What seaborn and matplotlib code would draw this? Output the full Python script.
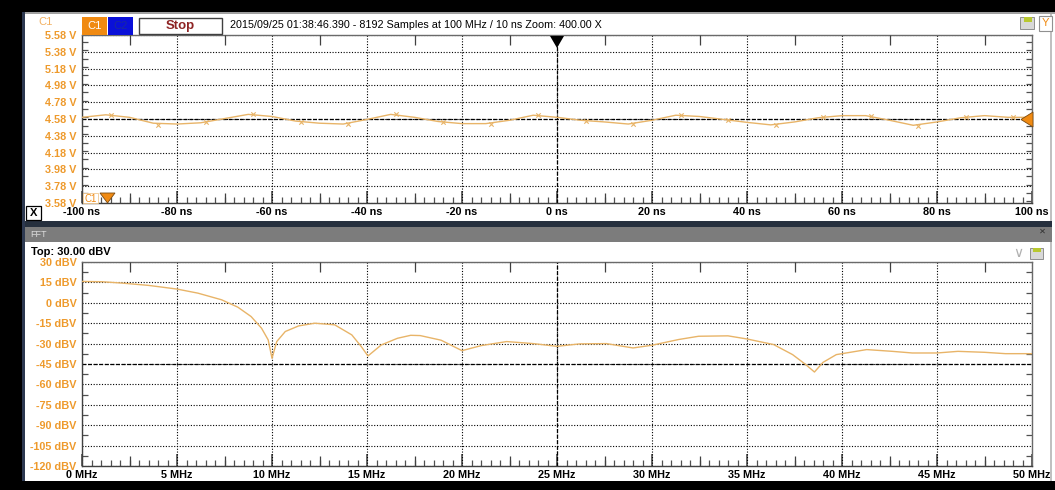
import matplotlib
matplotlib.use("Agg")
import matplotlib.pyplot as plt
from matplotlib.patches import Rectangle, Polygon
from matplotlib.ticker import FixedLocator, MultipleLocator
from matplotlib import font_manager
import seaborn as sns

# ---- channel C1 capture: 100 MHz samples (10 ns apart) ----
sample_t_ns = [-94, -84, -74, -64, -54, -44, -34, -24, -14, -4,
               6, 16, 26, 36, 46, 56, 66, 76, 86, 96]
sample_v = [4.63, 4.51, 4.54, 4.64, 4.54, 4.52, 4.64, 4.54, 4.525, 4.63,
            4.56, 4.52, 4.63, 4.57, 4.51, 4.60, 4.62, 4.50, 4.60, 4.60]

# displayed C1 trace
trace_t_ns = [-100, -95, -90, -85, -80, -75, -70, -65, -60, -55, -50, -45, -40,
              -35, -30, -25, -20, -15, -10, -5, 0, 5, 10, 15, 20, 25, 30, 35,
              40, 45, 50, 55, 60, 65, 70, 75, 80, 85, 90, 95, 100]
trace_v = [4.60, 4.63, 4.60, 4.53, 4.52, 4.535, 4.585, 4.635, 4.61, 4.555,
           4.53, 4.52, 4.575, 4.635, 4.60, 4.55, 4.525, 4.525, 4.565, 4.625,
           4.60, 4.565, 4.545, 4.52, 4.565, 4.625, 4.61, 4.575, 4.54, 4.51,
           4.545, 4.595, 4.62, 4.62, 4.565, 4.505, 4.545, 4.595, 4.62, 4.60, 4.60]

# ---- FFT magnitude of C1 ----
fft_mhz = [0, 1.05, 2.1, 3.5, 5.0, 6.1, 7.35, 8.2, 8.9, 9.45, 9.8, 10.0, 10.25,
           10.7, 11.4, 12.25, 13.3, 14.2, 14.7, 15.05, 15.75, 16.6, 17.3, 17.8,
           18.9, 20.0, 21.0, 22.35, 23.75, 25.0, 26.2, 27.6, 29.0, 30.0, 31.4,
           32.45, 34.0, 35.0, 36.4, 37.4, 38.1, 38.55, 39.0, 39.7, 41.3, 42.65,
           43.7, 45.0, 46.1, 47.5, 48.6, 50.0]
fft_dbv = [15.7, 15.5, 14.5, 12.8, 10.1, 7.1, 2.2, -3.2, -10.1, -18.7, -27.3,
           -40.8, -28.5, -21.1, -17.0, -15.0, -16.2, -23.6, -32.2, -39.1, -31.0,
           -26.1, -23.9, -24.1, -27.5, -35.2, -31.5, -28.5, -30.0, -32.0, -30.2,
           -30.0, -33.2, -31.2, -27.0, -24.6, -24.3, -26.6, -30.7, -38.1, -45.5,
           -50.9, -43.8, -38.1, -34.4, -35.7, -36.9, -36.9, -35.7, -36.4, -37.4,
           -37.4]

# ---- axis ticks and labels ----
time_ticks = [-100, -80, -60, -40, -20, 0, 20, 40, 60, 80, 100]
time_labels = ["-100 ns", "-80 ns", "-60 ns", "-40 ns", "-20 ns", "0 ns",
               "20 ns", "40 ns", "60 ns", "80 ns", "100 ns"]
volt_ticks = [5.58, 5.38, 5.18, 4.98, 4.78, 4.58, 4.38, 4.18, 3.98, 3.78, 3.58]
volt_labels = ["5.58 V", "5.38 V", "5.18 V", "4.98 V", "4.78 V", "4.58 V",
               "4.38 V", "4.18 V", "3.98 V", "3.78 V", "3.58 V"]
freq_ticks = [0, 5, 10, 15, 20, 25, 30, 35, 40, 45, 50]
freq_labels = ["0 MHz", "5 MHz", "10 MHz", "15 MHz", "20 MHz", "25 MHz",
               "30 MHz", "35 MHz", "40 MHz", "45 MHz", "50 MHz"]
dbv_ticks = [30, 15, 0, -15, -30, -45, -60, -75, -90, -105, -120]
dbv_labels = ["30 dBV", "15 dBV", "0 dBV", "-15 dBV", "-30 dBV", "-45 dBV",
              "-60 dBV", "-75 dBV", "-90 dBV", "-105 dBV", "-120 dBV"]

header_text = "2015/09/25 01:38:46.390 - 8192 Samples at 100 MHz / 10 ns Zoom: 400.00 X"

sns.set_style("white")
installed = {f.name for f in font_manager.fontManager.ttflist}
base_font = "Liberation Sans" if "Liberation Sans" in installed else "DejaVu Sans"
narrow_font = "Liberation Sans Narrow" if "Liberation Sans Narrow" in installed else base_font
header_size = 8.3 if narrow_font != base_font else 7.75
plt.rcParams["font.family"] = [base_font, "DejaVu Sans"]

TRACE = "#E8B468"
LABEL = "#EE9A2C"
ORANGE = "#F08A12"

W, H = 1055, 490
fig = plt.figure(figsize=(W / 100, H / 100), dpi=100)
fig.patch.set_facecolor("white")


def fx(x):
    return x / W


def fy(y):
    return 1 - y / H


def box(x0, y0, x1, y1, face, edge="none", lw=0.0, z=0):
    fig.patches.append(Rectangle((fx(x0), fy(y1)), (x1 - x0) / W, (y1 - y0) / H,
                                 transform=fig.transFigure, facecolor=face,
                                 edgecolor=edge, linewidth=lw, zorder=z))


def tri(points, face, edge="none", z=5):
    fig.patches.append(Polygon([(fx(a), fy(b)) for a, b in points], closed=True,
                               transform=fig.transFigure, facecolor=face,
                               edgecolor=edge, linewidth=0.6, zorder=z))


def label(x, y, s, **kw):
    fig.text(fx(x), fy(y), s, **kw)


# window frame
box(0, 0, W, 12, "black")
box(0, 0, 22, H, "black")
box(0, 481, W, H, "black")
box(22, 12, 25, 481, "#2c3850")
box(25, 12, W, 14, "#a0a0a0")
box(1050, 14, 1052, 221, "#c0c0c0")
box(1050, 242, 1052, 481, "#c0c0c0")
box(25, 221, 1052, 227, "#26303e")
box(25, 227, 1052, 242, "#7c7c7c")

# channel header
label(38, 22, "C1", color="#F2B060", fontsize=8, va="center", ha="left")
box(82, 17, 107, 35, ORANGE)
label(94.5, 26, "C1", color="white", fontsize=8, va="center", ha="center")
box(108, 17, 133, 35, "#0a10d8")
label(120.5, 26, "C2", color="#1a2aa0", fontsize=8, va="center", ha="center")
box(139, 18, 222, 34, "white", edge="#404040", lw=1.0)
label(180, 26, "Stop", color="#8E2424", fontsize=9.5, fontweight="bold",
      va="center", ha="center")
label(230, 25, header_text, color="black", fontsize=header_size, va="center",
      ha="left", family=narrow_font)
box(1020, 17, 1034, 29, "#d8d8d8", edge="#808080", lw=0.6)
box(1024, 17, 1032, 22, "#b8c830")
box(1039, 16, 1052, 31, "white", edge="#909090", lw=0.8)
label(1045.5, 23.5, "Y", color=ORANGE, fontsize=8, va="center", ha="center")

# FFT header
label(30, 234.5, "FFT", color="#dcdcdc", fontsize=6.5, va="center", ha="left")
label(31, 252, "Top: 30.00 dBV", color="black", fontsize=8, fontweight="bold",
      va="center", ha="left")
label(1018, 253, "\u2228", color="#b0b0b0", fontsize=10, va="center", ha="center")
box(1030, 248, 1043, 259, "#d8d8d8", edge="#808080", lw=0.6)
box(1033, 248, 1041, 252, "#b8c830")
label(1042, 232, "\u2715", color="#303030", fontsize=6, va="center", ha="center")

# X close box
box(26, 206, 41, 220, "white", edge="black", lw=0.9)
label(33.5, 213, "X", color="black", fontsize=8, fontweight="bold",
      va="center", ha="center")

tick_font = dict(fontsize=7.8, fontweight="bold")


def scope_axes(ax, xlim, ylim, xt, xl, yt, yl, xmid, xminor, ymid, center_x, center_y):
    ax.set_xlim(*xlim)
    ax.set_ylim(*ylim)
    ax.set_facecolor("white")
    # graticule
    for v in xt:
        ax.axvline(v, color="black", lw=0.8, ls=(0, (1, 1.5)), zorder=1)
    for v in yt:
        ax.axhline(v, color="black", lw=0.8, ls=(0, (1, 1.5)), zorder=1)
    ax.axvline(center_x, color="black", lw=0.9, ls=(0, (3, 1.5)), zorder=1)
    ax.axhline(center_y, color="black", lw=0.9, ls=(0, (3, 1.5)), zorder=1)
    ax.xaxis.set_major_locator(FixedLocator(xt))
    ax.set_xticklabels(xl, color="black", **tick_font)
    ax.yaxis.set_major_locator(FixedLocator(yt))
    ax.set_yticklabels(yl, color=LABEL, **tick_font)
    ax.xaxis.set_minor_locator(MultipleLocator(xminor))
    ax.yaxis.set_minor_locator(MultipleLocator(ymid))
    ax.tick_params(axis="x", which="major", direction="in", length=9, width=1.1,
                   color="#404040", top=True, bottom=True, pad=3)
    ax.tick_params(axis="x", which="minor", direction="in", length=4, width=0.9,
                   color="#505050", top=True, bottom=True)
    ax.tick_params(axis="y", which="major", direction="in", length=0,
                   left=True, right=True, pad=4)
    ax.tick_params(axis="y", which="minor", direction="in", length=4, width=0.9,
                   color="#505050", left=True, right=True)
    for s in ax.spines.values():
        s.set_color("#6a6a6a")
        s.set_linewidth(1.0)
    ax.spines["left"].set_color("#404040")
    ax.spines["bottom"].set_color("#404040")
    # half-division ruler marks
    tw = ax.twiny()
    tw.set_xlim(*xlim)
    tw.xaxis.set_major_locator(FixedLocator(xmid))
    tw.tick_params(axis="x", which="major", direction="in", length=7, width=0.9,
                   color="#404040", top=True, bottom=True,
                   labeltop=False, labelbottom=False)
    tw.xaxis.set_minor_locator(FixedLocator([]))
    for s in tw.spines.values():
        s.set_visible(False)
    ax.set_xlabel("")
    ax.set_ylabel("")


# ---- time-domain panel ----
ax1 = fig.add_axes([fx(82), fy(203), (1032 - 82) / W, (203 - 35) / H])
sns.lineplot(x=trace_t_ns, y=trace_v, ax=ax1, color=TRACE, lw=1.0, zorder=3)
sns.scatterplot(x=sample_t_ns, y=sample_v, ax=ax1, marker="x", s=10,
                color=TRACE, linewidth=0.8, zorder=4)
scope_axes(ax1, (-100, 100), (3.58, 5.58), time_ticks, time_labels,
           volt_ticks, volt_labels, [-90, -70, -50, -30, -10, 10, 30, 50, 70, 90],
           2, 0.1, 0, 4.58)

# markers on the time panel
tri([(550, 36), (564, 36), (557, 48)], "black")
tri([(1033, 112), (1033, 127), (1021, 119.5)], ORANGE, edge="#7a4a10")
box(83, 193, 98, 203, "white", edge="#f0c890", lw=0.6, z=4)
label(90.5, 198.5, "C1", color=ORANGE, fontsize=7, va="center", ha="center",
      zorder=6)
tri([(100, 193), (115, 193), (107.5, 203)], ORANGE, edge="#7a4a10")

# ---- FFT panel ----
ax2 = fig.add_axes([fx(82), fy(466), (1032 - 82) / W, (466 - 262) / H])
sns.lineplot(x=fft_mhz, y=fft_dbv, ax=ax2, color=TRACE, lw=1.0, zorder=3)
scope_axes(ax2, (0, 50), (-120, 30), freq_ticks, freq_labels,
           dbv_ticks, dbv_labels, [2.5, 7.5, 12.5, 17.5, 22.5, 27.5, 32.5, 37.5,
                                   42.5, 47.5],
           0.5, 7.5, 25, -45)

fig.savefig("out.png", dpi=100, facecolor="white")
